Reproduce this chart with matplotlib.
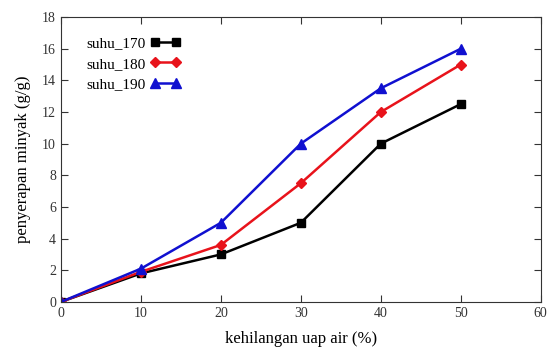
import matplotlib.pyplot as plt

# data
kehilangan = [0, 10, 20, 30, 40, 50]
suhu_170 = [0, 1.8, 3.0, 5.0, 10.0, 12.5]
suhu_180 = [0, 1.9, 3.6, 7.5, 12.0, 15.0]
suhu_190 = [0, 2.1, 5.0, 10.0, 13.5, 16.0]

plt.rcParams['font.family'] = ['Liberation Serif', 'DejaVu Serif']

fig = plt.figure(figsize=(5.54, 3.49), dpi=100)
ax = fig.add_axes([0.110, 0.135, 0.866, 0.816])

ax.plot(kehilangan, suhu_170, color='black', marker='s', markersize=6, lw=1.8, label='suhu_170')
ax.plot(kehilangan, suhu_180, color='#e8131b', marker='D', markersize=5.5, lw=1.8, label='suhu_180')
ax.plot(kehilangan, suhu_190, color='#1010d0', marker='^', markersize=7, lw=1.8, label='suhu_190')

ax.set_xlim(0, 60)
ax.set_ylim(0, 18)
ax.set_xticks(range(0, 61, 10))
ax.set_yticks(range(0, 19, 2))
ax.tick_params(direction='in', top=True, right=True, length=5, labelsize=10, colors='#333333')
for s in ax.spines.values():
    s.set_color('#333333')

ax.set_xlabel('kehilangan uap air (%)', fontsize=12, labelpad=8)
ax.set_ylabel('penyerapan minyak (g/g)', fontsize=12, labelpad=8)

ax.legend(loc='upper left', bbox_to_anchor=(0.025, 0.98), frameon=False, markerfirst=False,
          numpoints=2, handlelength=2.0, fontsize=11, labelspacing=0.45, handletextpad=0.3)

fig.savefig('out.png', dpi=100)
